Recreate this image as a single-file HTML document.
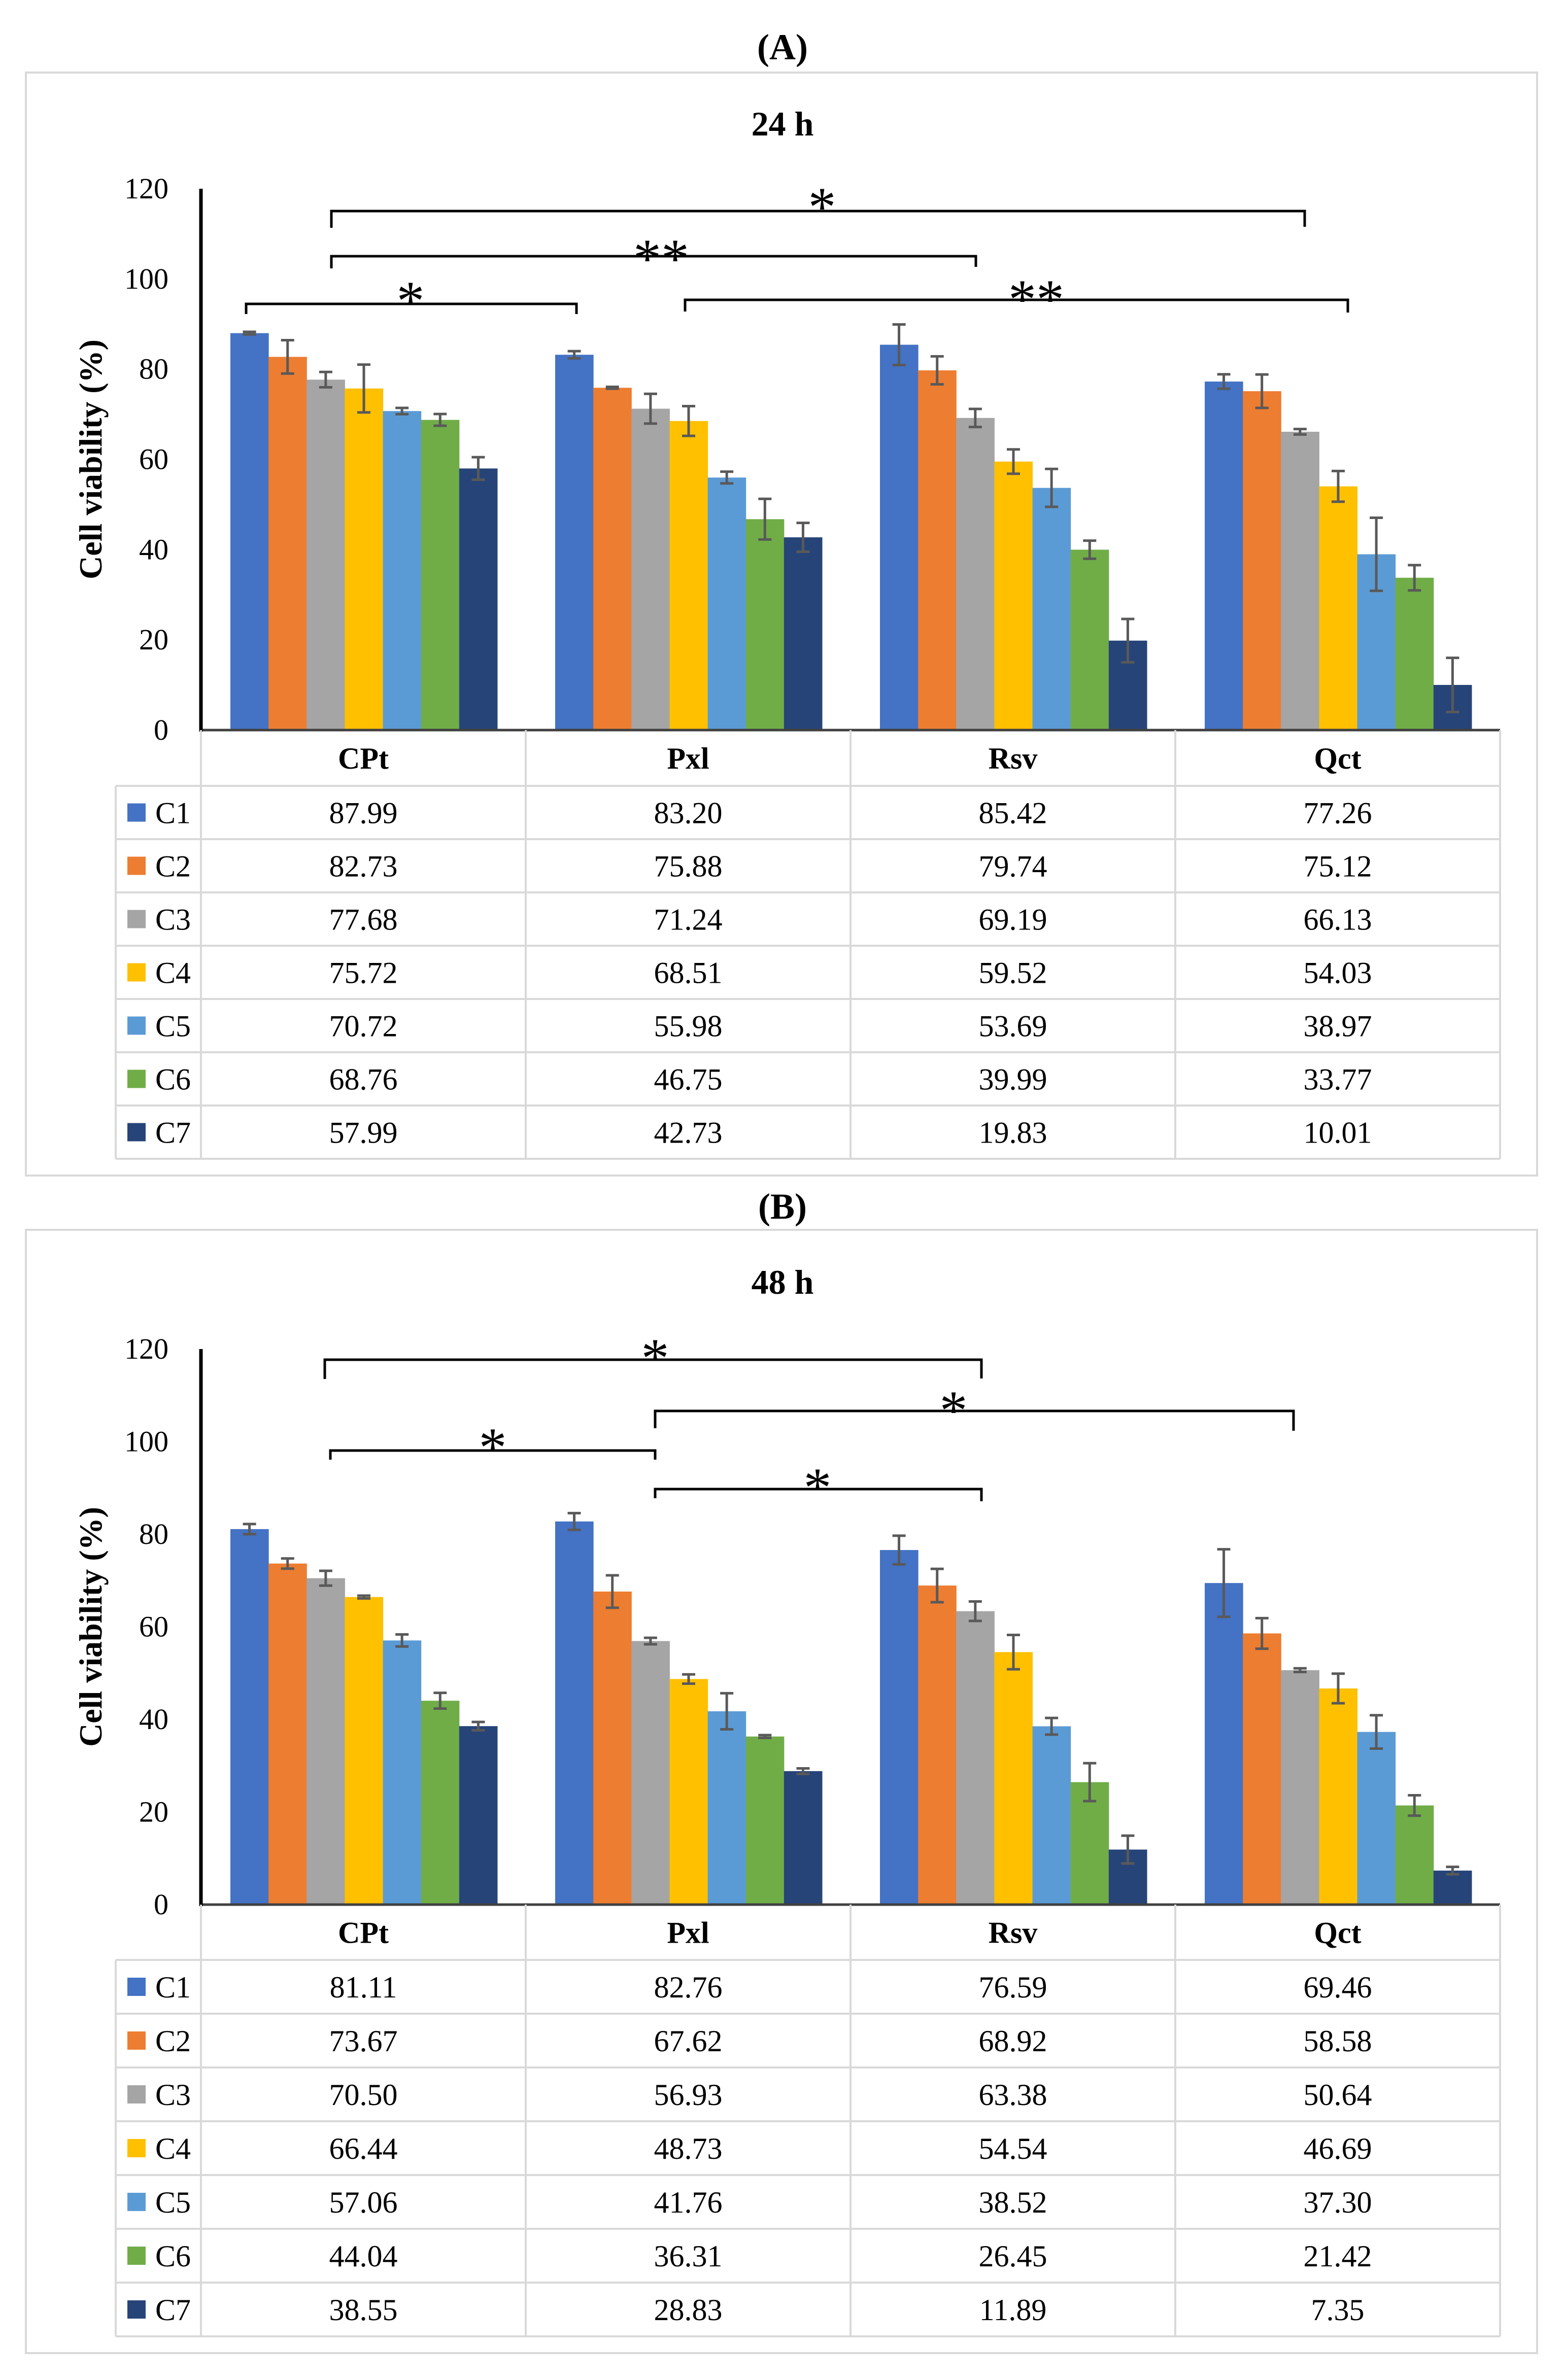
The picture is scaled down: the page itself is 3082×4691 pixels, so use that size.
<!DOCTYPE html>
<html><head><meta charset="utf-8">
<style>
html,body{margin:0;padding:0;background:#fff;}
svg{display:block;}
svg text{font-family:"Liberation Serif","DejaVu Serif",serif;fill:#000;}
</style></head>
<body>
<svg id="chart" width="3082" height="4691" viewBox="0 0 3082 4691" font-family="Liberation Serif, DejaVu Serif, serif" xmlns="http://www.w3.org/2000/svg"></svg>
<script>
const categories = ["CPt","Pxl","Rsv","Qct"];
const seriesNames = ["C1","C2","C3","C4","C5","C6","C7"];
const colors = ["#4472C4","#ED7D31","#A5A5A5","#FFC000","#5B9BD5","#70AD47","#264478"];
const yTicks = [0,20,40,60,80,100,120];

// 24 h values [series][category]
const valuesA_C1 = [87.99,83.20,85.42,77.26];
const valuesA_C2 = [82.73,75.88,79.74,75.12];
const valuesA_C3 = [77.68,71.24,69.19,66.13];
const valuesA_C4 = [75.72,68.51,59.52,54.03];
const valuesA_C5 = [70.72,55.98,53.69,38.97];
const valuesA_C6 = [68.76,46.75,39.99,33.77];
const valuesA_C7 = [57.99,42.73,19.83,10.01];
const errorsA = [
  [0.3,0.8,4.5,1.6],
  [3.7,0.2,3.1,3.7],
  [1.7,3.3,2.0,0.6],
  [5.3,3.3,2.7,3.4],
  [0.7,1.3,4.2,8.1],
  [1.3,4.5,2.0,2.8],
  [2.5,3.2,4.8,6.0]
];
// 48 h values
const valuesB_C1 = [81.11,82.76,76.59,69.46];
const valuesB_C2 = [73.67,67.62,68.92,58.58];
const valuesB_C3 = [70.50,56.93,63.38,50.64];
const valuesB_C4 = [66.44,48.73,54.54,46.69];
const valuesB_C5 = [57.06,41.76,38.52,37.30];
const valuesB_C6 = [44.04,36.31,26.45,21.42];
const valuesB_C7 = [38.55,28.83,11.89,7.35];
const errorsB = [
  [1.1,1.8,3.1,7.3],
  [1.1,3.5,3.6,3.3],
  [1.6,0.7,2.1,0.4],
  [0.3,1.0,3.7,3.2],
  [1.3,3.9,1.8,3.6],
  [1.7,0.3,4.1,2.2],
  [0.9,0.6,3.0,0.8]
];
// significance annotations: [leftX, rightX, y, leftTickBottom, rightTickBottom, label, starX, starY]
const bracketsA = [
  [653,2571,416,449,447,"*",1620,400],
  [653,1923,505,529,526,"**",1303,502],
  [485,1136,599,619,619,"*",809,585],
  [1350,2656,591,614,616,"**",2042,582]
];
const bracketsB = [
  [640,1934,2680,2718,2717,"*",1291,2669],
  [1291,2549,2781,2815,2820,"*",1879,2772],
  [651,1291,2859,2877,2877,"*",971,2845],
  [1291,1934,2935,2953,2959,"*",1611,2924]
];

const NS = "http://www.w3.org/2000/svg";
const SERIF = "Liberation Serif, DejaVu Serif, serif";
const svg = document.getElementById("chart");
function mk(tag, attrs, parent, txt){
  const e = document.createElementNS(NS, tag);
  for (const k in attrs) e.setAttribute(k, attrs[k]);
  if (tag === "text" && !attrs["font-family"]) e.setAttribute("font-family", SERIF);
  if (txt !== undefined) e.textContent = txt;
  (parent || svg).appendChild(e);
  return e;
}

function drawPanel(cfg){
  const g = mk("g", {});
  
  
  const x0 = 396, catW = 640, groupPad = 58, barW = 526/7;
  const xCat = i => x0 + i*catW;
  const yScale = v => cfg.zero - v*(cfg.zero-cfg.axisTop)/120;

  const border = mk("rect",{x:51,y:cfg.top,width:2978,height:cfg.bottom-cfg.top,fill:"none",stroke:"#d9d9d9","stroke-width":4},g);
  
  

  const lab = mk("text",{x:1542,y:cfg.labelY,"font-size":72,"font-weight":"bold","text-anchor":"middle"},g,cfg.label);
  
  
  const ttl = mk("text",{x:1542,y:cfg.titleY,"font-size":68,"font-weight":"bold","text-anchor":"middle"},g,cfg.title);
  
  

  yTicks.forEach(t=>{
    const tt = mk("text",{x:332,y:yScale(t)+19,"font-size":58,"text-anchor":"end"},g,String(t));
    
    
  });
  const midY = (cfg.zero+cfg.axisTop)/2;
  const yt = mk("text",{x:0,y:0,"font-size":64,"font-weight":"bold","text-anchor":"middle",transform:`translate(200,${midY}) rotate(-90)`},g,"Cell viability (%)");
  
  

  cfg.values.forEach((vals,s)=>{
    vals.forEach((v,c)=>{
      const bx = xCat(c)+groupPad+s*barW;
      const r = mk("rect",{x:bx,y:yScale(v),width:barW+0.5,height:cfg.zero-yScale(v),fill:colors[s]},g);
      
      
    });
  });
  cfg.values.forEach((vals,s)=>{
    vals.forEach((v,c)=>{
      const cx = xCat(c)+groupPad+s*barW+barW/2;
      const e = cfg.errors[s][c];
      const y1 = yScale(v+e), y2 = yScale(v-e);
      const eg = mk("g",{stroke:"#595959","stroke-width":5,fill:"none"},g);
      
      
      mk("line",{x1:cx,y1:y1,x2:cx,y2:y2},eg);
      mk("line",{x1:cx-13,y1:y1,x2:cx+13,y2:y1},eg);
      mk("line",{x1:cx-13,y1:y2,x2:cx+13,y2:y2},eg);
    });
  });

  const xa = mk("line",{x1:x0,y1:cfg.zero,x2:x0+4*catW,y2:cfg.zero,stroke:"#404040","stroke-width":5},g);
  
  
  const ya = mk("line",{x1:x0,y1:cfg.axisTop,x2:x0,y2:cfg.zero+3,stroke:"#000","stroke-width":7},g);
  
  

  cfg.brackets.forEach(b=>{
    const bg = mk("g",{},g);
    
    
    mk("polyline",{points:`${b[0]},${b[3]} ${b[0]},${b[2]} ${b[1]},${b[2]} ${b[1]},${b[4]}`,fill:"none",stroke:"#000","stroke-width":5},bg);
    mk("text",{x:b[6],y:b[7]+45,"font-size":110,"text-anchor":"middle","font-family":"DejaVu Sans, sans-serif"},bg,b[5]);
  });

  const tg = mk("g",{stroke:"#d9d9d9","stroke-width":4,fill:"none"},g);
  
  
  const rowsTop = cfg.rowStart, rh = cfg.rowH, tbBottom = rowsTop + 7*rh;
  const tRight = x0+4*catW;
  for (let i=0;i<=4;i++) mk("line",{x1:xCat(i),y1:cfg.zero,x2:xCat(i),y2:tbBottom},tg);
  mk("line",{x1:228,y1:rowsTop,x2:228,y2:tbBottom},tg);
  for (let r=0;r<=7;r++) mk("line",{x1:228,y1:rowsTop+r*rh,x2:tRight,y2:rowsTop+r*rh},tg);

  categories.forEach((c,i)=>{
    const ht = mk("text",{x:xCat(i)+catW/2,y:(cfg.zero+rowsTop)/2+21,"font-size":60,"font-weight":"bold","text-anchor":"middle"},g,c);
    
    
  });
  seriesNames.forEach((n,s)=>{
    const cy = rowsTop + s*rh + rh/2;
    const sw = mk("rect",{x:251,y:cy-18,width:36,height:36,fill:colors[s]},g);
    
    
    const lt = mk("text",{x:306,y:cy+21,"font-size":60},g,n);
    
    
    cfg.values[s].forEach((v,c)=>{
      const ct = mk("text",{x:xCat(c)+catW/2,y:cy+21,"font-size":60,"text-anchor":"middle"},g,v.toFixed(2));
      
      
    });
  });
}

drawPanel({name:"panel-24h",label:"(A)",title:"24 h",labelY:117,titleY:267,top:143,bottom:2317,axisTop:372,zero:1439,rowStart:1549,rowH:105,
  values:[valuesA_C1,valuesA_C2,valuesA_C3,valuesA_C4,valuesA_C5,valuesA_C6,valuesA_C7],errors:errorsA,brackets:bracketsA});
drawPanel({name:"panel-48h",label:"(B)",title:"48 h",labelY:2402,titleY:2550,top:2424,bottom:4638,axisTop:2659,zero:3754,rowStart:3863,rowH:106,
  values:[valuesB_C1,valuesB_C2,valuesB_C3,valuesB_C4,valuesB_C5,valuesB_C6,valuesB_C7],errors:errorsB,brackets:bracketsB});
</script>
</body></html>
